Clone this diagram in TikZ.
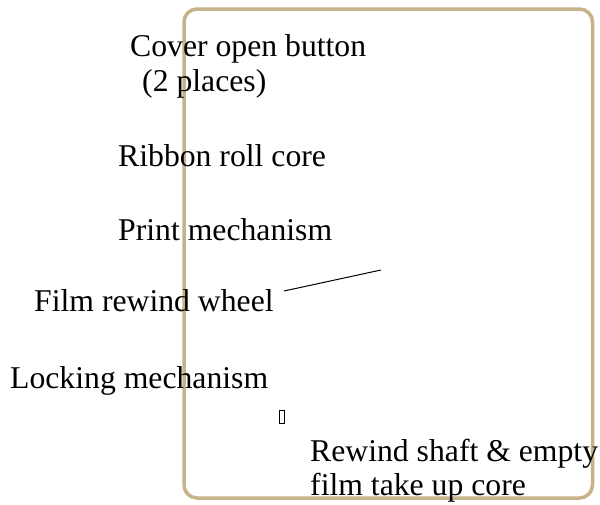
\documentclass[tikz,border=0pt]{standalone}
\usepackage{fontspec}
\setmainfont{Liberation Serif}
\definecolor{frametan}{RGB}{200,178,138}
\tikzset{
  callout/.style={anchor=base west, inner sep=0pt, font=\fontsize{31.7}{35}\selectfont},
}
\begin{document}
\begin{tikzpicture}[x=1pt, y=-1pt]
        \useasboundingbox (0,0) rectangle (600,504);
        \draw[frametan, line width=3.5pt, rounded corners=13pt] (184,9) rectangle (592.5,498);
        \node[callout] (cover) at (130,56) {Cover open button};
        \node[callout] (places) at (142,91) {(2 places)};
        \node[callout] (ribbon) at (118,166) {Ribbon roll core};
        \node[callout] (print) at (118,240) {Print mechanism};
        \node[callout] (wheel) at (34,311) {Film rewind wheel};
        \node[callout] (locking) at (10,388) {Locking mechanism};
        \node[callout] (shaft) at (310,461) {Rewind shaft \& empty};
        \node[callout] (core) at (310,495) {film take up core};
        % leader from the wheel label
        \coordinate (leadA) at (284,291);
        \coordinate (leadB) at (381,270);
        \draw[line width=1pt] (leadA) -- (leadB);
        \draw[line width=1.2pt] (279.5,410.5) rectangle (284.5,423.5);
    \end{tikzpicture}
\end{document}
